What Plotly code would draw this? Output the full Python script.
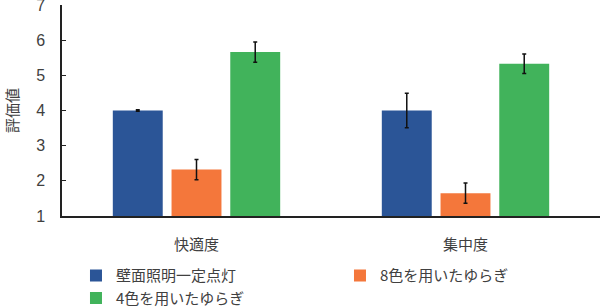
import plotly.graph_objects as go

categories = ["快適度", "集中度"]
series_names = ["壁面照明一定点灯", "8色を用いたゆらぎ", "4色を用いたゆらぎ"]
series_values = [
    [4.00, 4.00],
    [2.32, 1.65],
    [5.66, 5.33],
]
series_errors = [
    [0.02, 0.49],
    [0.29, 0.29],
    [0.29, 0.28],
]
series_colors = ["#2B5597", "#F4773B", "#41B35B"]
y_ticks = [1, 2, 3, 4, 5, 6, 7]

font_family = "Liberation Sans, Arial, Noto Sans CJK JP, sans-serif"
cjk = "Noto Sans CJK JP, sans-serif"

fig = go.Figure()
for name, vals, errs, col in zip(series_names, series_values, series_errors, series_colors):
    fig.add_trace(go.Bar(
        x=categories, y=vals, name=name, marker_color=col, marker_line_width=0,
        error_y=dict(type="data", array=errs, visible=True, color="#111111",
                     thickness=1.5, width=2),
    ))

fig.update_layout(
    width=605, height=307,
    margin=dict(l=62, r=5, t=5, b=91, autoexpand=False),
    plot_bgcolor="white", paper_bgcolor="white",
    barmode="group", bargap=0.345, bargroupgap=0.15,
    font=dict(family=font_family, size=14, color="#404040"),
    showlegend=True,
    legend=dict(orientation="h", x=0.026, xanchor="left", y=-0.205, yanchor="top",
                entrywidth=219, entrywidthmode="pixels",
                font=dict(family=cjk, size=15, color="#404040"),
                itemwidth=30, traceorder="normal"),
)
fig.update_xaxes(
    showline=True, linecolor="#222222", linewidth=1.5,
    ticks="", ticklabelstandoff=14,
    tickfont=dict(family=cjk, size=15, color="#404040"),
)
fig.update_yaxes(
    range=[1, 7], tickvals=y_ticks, showgrid=False, zeroline=False,
    showline=True, linecolor="#222222", linewidth=1.5,
    ticks="inside", ticklen=4, tickcolor="#222222",
    ticklabeloverflow="allow", ticklabelstandoff=12,
    tickfont=dict(size=16, color="#404040"),
    title=dict(text="評価値", font=dict(family=cjk, size=15, color="#404040"), standoff=14),
)

fig.write_html("out.html")
